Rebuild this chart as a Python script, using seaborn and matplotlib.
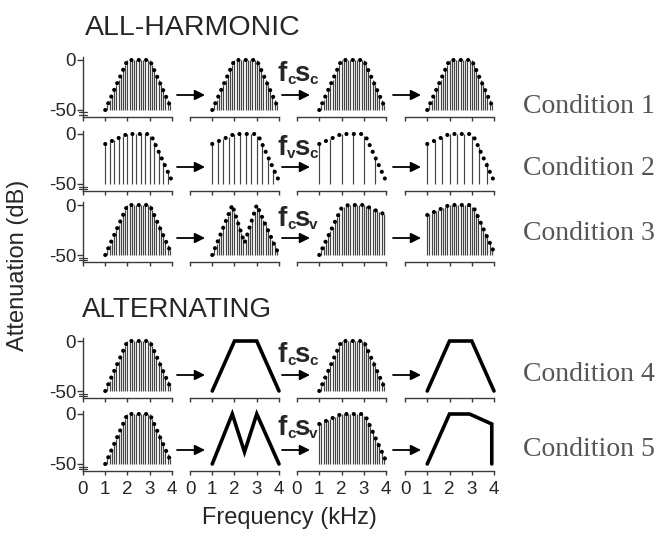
import numpy as np
import pandas as pd
import seaborn as sns
import matplotlib.pyplot as plt

# harmonic frequencies (kHz)
FREQ_100 = [1.0, 1.1, 1.2, 1.3, 1.4, 1.5, 1.6, 1.7, 1.8, 1.9, 2.0, 2.1, 2.2, 2.3, 2.4, 2.5,
            2.6, 2.7, 2.8, 2.9, 3.0, 3.1, 3.2, 3.3, 3.4, 3.5, 3.6, 3.7, 3.8, 3.9, 4.0]
FREQ_200 = [1.0, 1.2, 1.4, 1.6, 1.8, 2.0, 2.2, 2.4, 2.6, 2.8, 3.0, 3.2, 3.4, 3.6, 3.8, 4.0]
FREQ_250 = [1.0, 1.25, 1.5, 1.75, 2.0, 2.25, 2.5, 2.75, 3.0, 3.25, 3.5, 3.75, 4.0]
FREQ_333 = [1.0, 1.33, 1.67, 2.0, 2.33, 2.67, 3.0, 3.33, 3.67, 4.0]
FREQ_500 = [1.0, 1.5, 2.0, 2.5, 3.0, 3.5, 4.0]

# harmonic levels (dB)
LVL_TRAP = [-50, -45, -40, -35, -30, -25, -20, -15, -10, -5, 0, 0, 0, 0, 0, 0,
            0, 0, 0, 0, 0, -5, -10, -15, -20, -25, -30, -35, -40, -45, -50]
LVL_M = [-50, -44, -39, -33, -28, -22, -17, -11, -6, 0, -7, -14, -21, -28, -35, -35,
         -28, -21, -14, -7, 0, -5, -10, -15, -20, -25, -30, -35, -40, -45, -50]
LVL_HI = [-50, -45, -41, -36, -31, -26, -22, -17, -12, -8, -3, -2, -1, 0, 0, 0,
          0, 0, 0, 0, 0, -1, -2, -3, -4, -5, -6, -7, -8, -9, -10]
LVL_LO = [-10, -9, -8, -7, -6, -5, -4, -3, -2, -1, 0, 0, 0, 0, 0, 0,
          0, 0, 0, 0, -2, -3, -8, -13, -18, -23, -28, -32, -37, -42, -47]
LVL_LO_200 = [-10, -8, -6, -4, -2, 0, 0, 0, 0, 0, -2, -8, -18, -28, -37, -47]
LVL_LO_250 = [-10, -8, -5, -3, 0, 0, 0, 0, -2, -10, -23, -35, -47]
LVL_LO_333 = [-10, -7, -3, 0, 0, 0, -2, -13, -28, -47]
LVL_LO_500 = [-10, -5, 0, 0, -2, -23, -47]

# spectral envelopes
ENV_TRAP = ([1.0, 2.0, 3.0, 4.0], [-50, 0, 0, -50])
ENV_LO = ([1.0, 2.0, 2.9, 3.1, 4.0], [-10, 0, 0, -3, -47])
ENV_HI = ([1.0, 2.0, 2.3, 3.0, 3.5, 4.0], [-50, -3, 0, 0, -5, -10])
ENV_M = ([1.0, 1.9, 2.45, 3.0, 4.0], [-50, 0, -38, 0, -50])
ENV_CUT = ([1.0, 2.0, 2.9, 3.9, 3.9], [-50, 0, 0, -10, -50])

ROWS = [
    [("h", FREQ_100, LVL_TRAP, ENV_TRAP)] * 4,
    [("h", FREQ_200, LVL_LO_200, ENV_LO), ("h", FREQ_250, LVL_LO_250, ENV_LO),
     ("h", FREQ_500, LVL_LO_500, ENV_LO), ("h", FREQ_333, LVL_LO_333, ENV_LO)],
    [("h", FREQ_100, LVL_TRAP, ENV_TRAP), ("h", FREQ_100, LVL_M, ENV_M),
     ("h", FREQ_100, LVL_HI, ENV_HI), ("h", FREQ_100, LVL_LO, ENV_LO)],
    [("h", FREQ_100, LVL_TRAP, ENV_TRAP), ("s", None, None, ENV_TRAP),
     ("h", FREQ_100, LVL_TRAP, ENV_TRAP), ("s", None, None, ENV_TRAP)],
    [("h", FREQ_100, LVL_TRAP, ENV_TRAP), ("s", None, None, ENV_M),
     ("h", FREQ_100, LVL_LO, ENV_LO), ("s", None, None, ENV_CUT)],
]
TRANSFORMS = [("c", "c"), ("v", "c"), ("c", "v"), ("c", "c"), ("c", "v")]
CONDITIONS = ["Condition 1", "Condition 2", "Condition 3", "Condition 4", "Condition 5"]
BASE = -50

sns.set_style("white")
plt.rcParams['font.family'] = ['Liberation Sans', 'DejaVu Sans']
plt.rcParams['axes.unicode_minus'] = False

W, H = 663, 537
fig = plt.figure(figsize=(W / 100, H / 100), dpi=100)

X0 = [83, 190, 297, 405]     # px of 0 kHz per column
YB = [117, 191, 262, 398, 471]  # px of x axis per row
PW, PH = 89, 60


def fx(px):
    return px / W


def fy(py):
    return 1 - py / H


axis_col = "#3a3a3a"
for r, row in enumerate(ROWS):
    for c, (kind, freqs, lvls, env) in enumerate(row):
        ax = fig.add_axes([fx(X0[c]), fy(YB[r]), PW / W, PH / H])
        ax.set_xlim(0, 4)
        ax.set_ylim(-57, 3)
        env_df = pd.DataFrame({"f": env[0], "db": env[1]})
        if kind == "h":
            ax.vlines(freqs, BASE, lvls, color="#444444", lw=0.85)
            sns.lineplot(data=env_df, x="f", y="db", ax=ax, sort=False, estimator=None,
                         color="k", lw=3.0, linestyle=(0, (0.01, 1.75)),
                         dash_capstyle="round", clip_on=False)
        else:
            sns.lineplot(data=env_df, x="f", y="db", ax=ax, sort=False, estimator=None,
                         color="k", lw=2.6, solid_joinstyle="miter", clip_on=False)
        ax.set_xlabel("")
        ax.set_ylabel("")
        ax.patch.set_alpha(0)
        for s in ["top", "right"]:
            ax.spines[s].set_visible(False)
        ax.spines["bottom"].set_color(axis_col)
        ax.spines["bottom"].set_linewidth(1.0)
        ax.set_xticks([0, 1, 2, 3, 4])
        ax.tick_params(axis="x", length=3, width=1, color=axis_col, direction="out",
                       labelsize=13.5, pad=4, labelbottom=(r == 4), bottom=True)
        if c == 0:
            ax.spines["left"].set_color(axis_col)
            ax.spines["left"].set_linewidth(1.0)
            ax.set_yticks([0, -50])
            ax.set_yticklabels(["0", "-50"])
            ax.tick_params(axis="y", length=4, width=1, color=axis_col, direction="out",
                           labelsize=13.5, pad=1, left=True)
            tr = ax.get_yaxis_transform()
            for yb in (-52.5, -55):
                ax.plot([-0.045, 0.045], [yb, yb], transform=tr, color=axis_col,
                        lw=0.9, clip_on=False)
        else:
            ax.spines["left"].set_visible(False)
            ax.set_yticks([])

# arrows between columns
ARROW_Y = [95, 167, 238, 375, 450]
ARROW_X = [(177, 205), (282, 310), (393, 421)]
for r in range(5):
    for x0, x1 in ARROW_X:
        fig.add_artist(plt.Annotation("", xy=(fx(x1), fy(ARROW_Y[r])), xytext=(fx(x0), fy(ARROW_Y[r])),
                                      xycoords="figure fraction", textcoords="figure fraction",
                                      arrowprops=dict(arrowstyle="-|>", color="k", lw=1.3,
                                                      mutation_scale=15, shrinkA=0, shrinkB=0)))

# transformation labels: f with subscript, s with subscript
Y0DB = [60, 134, 205, 341, 414]
for r, (a, b) in enumerate(TRANSFORMS):
    base = Y0DB[r] + 21
    fig.text(fx(278), fy(base), "f", fontsize=20, weight="bold", ha="left", va="baseline")
    fig.text(fx(287), fy(base + 3), a, fontsize=11, weight="bold", ha="left", va="baseline")
    fig.text(fx(294), fy(base), "s", fontsize=20, weight="bold", ha="left", va="baseline")
    fig.text(fx(309), fy(base + 3), b, fontsize=11, weight="bold", ha="left", va="baseline")

# condition labels
COND_Y = [113, 175, 240, 381, 456]
for r, lab in enumerate(CONDITIONS):
    fig.text(fx(523), fy(COND_Y[r]), lab, fontsize=20, color="#555555",
             family=["Liberation Serif", "DejaVu Serif"], ha="left", va="baseline")

fig.text(fx(85), fy(35), "ALL-HARMONIC", fontsize=20.5, ha="left", va="baseline")
fig.text(fx(82), fy(317), "ALTERNATING", fontsize=20, ha="left", va="baseline")
fig.text(fx(18), fy(265), "Attenuation (dB)", fontsize=17, rotation=90, ha="center", va="center")
fig.text(fx(289), fy(518), "Frequency (kHz)", fontsize=17, ha="center", va="center")

fig.savefig("out.png", dpi=100)
